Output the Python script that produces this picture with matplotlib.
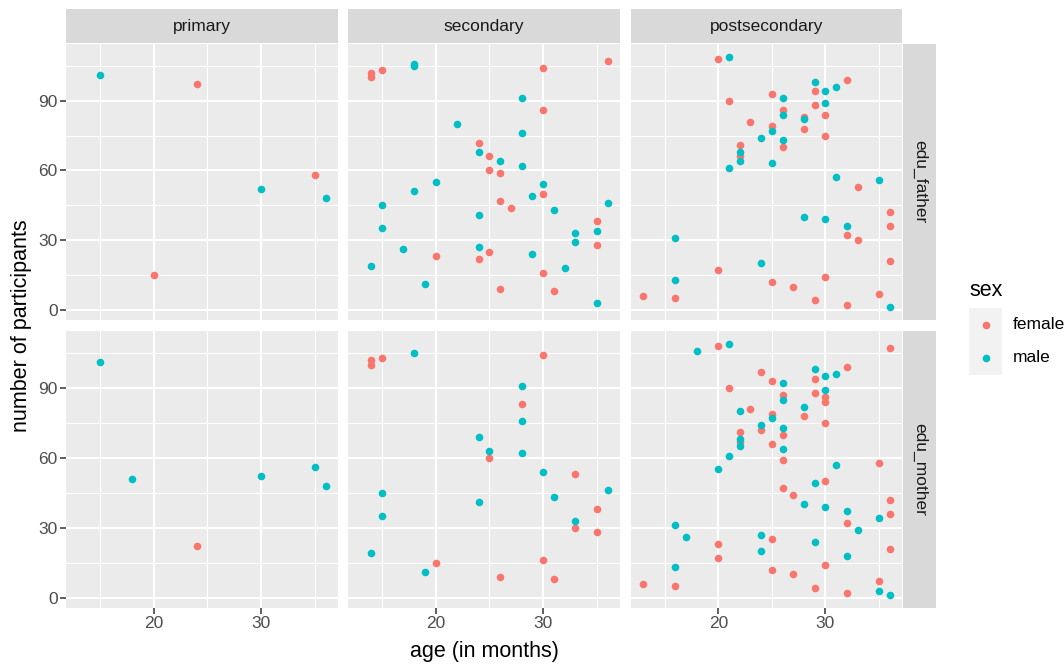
import matplotlib
matplotlib.use("Agg")
import matplotlib.pyplot as plt
from matplotlib.lines import Line2D

plt.rcParams['font.family'] = ['Liberation Sans', 'DejaVu Sans']

# ages (months) and number of participants
father_primary_f_age = [24, 35, 20]
father_primary_f_n = [97, 58, 15]
father_primary_m_age = [15, 30, 36]
father_primary_m_n = [101, 52, 48]

father_secondary_f_age = [14, 14, 15, 30, 36, 30, 24, 25, 25, 26, 30, 26, 27, 35, 35, 25, 20, 24, 30, 26, 31]
father_secondary_f_n = [102, 100, 103, 104, 107, 86, 72, 66, 60, 59, 50, 47, 44, 38, 28, 25, 23, 22, 16, 9, 8]
father_secondary_m_age = [18, 18, 28, 22, 28, 24, 26, 28, 20, 30, 29, 18, 36, 15, 31, 24, 15, 33, 35, 33,
                          17, 24, 29, 14, 32, 19, 35]
father_secondary_m_n = [106, 105, 91, 80, 76, 68, 64, 62, 55, 54, 49, 51, 46, 45, 43, 41, 35, 33, 34, 29,
                        26, 27, 24, 19, 18, 11, 3]

father_post_f_age = [20, 32, 29, 25, 21, 29, 26, 30, 28, 23, 28, 25, 30, 22, 26, 22, 33, 36, 36, 32,
                     33, 36, 20, 30, 25, 27, 13, 16, 35, 29, 32]
father_post_f_n = [108, 99, 94, 93, 90, 88, 86, 84, 83, 81, 78, 79, 75, 71, 70, 66, 53, 42, 36, 32,
                   30, 21, 17, 14, 12, 10, 6, 5, 7, 4, 2]
father_post_m_age = [21, 29, 31, 30, 26, 30, 26, 28, 25, 24, 26, 22, 22, 21, 25, 31, 35, 28, 30, 32,
                     16, 24, 16, 36]
father_post_m_n = [109, 98, 96, 94, 91, 89, 84, 82, 77, 74, 73, 68, 64, 61, 63, 57, 56, 40, 39, 36,
                   31, 20, 13, 1]

mother_primary_f_age = [24]
mother_primary_f_n = [22]
mother_primary_m_age = [15, 18, 30, 35, 36]
mother_primary_m_n = [101, 51, 52, 56, 48]

mother_secondary_f_age = [14, 14, 15, 30, 28, 25, 33, 35, 33, 35, 20, 30, 26, 31]
mother_secondary_f_n = [102, 100, 103, 104, 83, 60, 53, 38, 30, 28, 15, 16, 9, 8]
mother_secondary_m_age = [18, 28, 28, 24, 25, 28, 30, 15, 36, 31, 24, 15, 33, 14, 19]
mother_secondary_m_n = [105, 91, 76, 69, 63, 62, 54, 45, 46, 43, 41, 35, 33, 19, 11]

mother_post_f_age = [20, 36, 32, 24, 29, 25, 21, 29, 26, 30, 30, 23, 25, 28, 30, 24, 22, 26, 22, 25,
                     26, 35, 30, 26, 27, 36, 36, 32, 25, 20, 36, 20, 30, 25, 27, 13, 16, 35, 29, 32]
mother_post_f_n = [108, 107, 99, 97, 94, 93, 90, 88, 87, 86, 84, 81, 79, 78, 75, 72, 71, 70, 67, 66,
                   59, 58, 50, 47, 44, 42, 36, 32, 25, 23, 21, 17, 14, 12, 10, 6, 5, 7, 4, 2]
mother_post_m_age = [18, 21, 29, 30, 31, 26, 30, 26, 28, 22, 25, 24, 26, 22, 22, 26, 21, 20, 31, 29,
                     28, 30, 32, 35, 16, 33, 17, 24, 29, 24, 32, 16, 35, 36]
mother_post_m_n = [106, 109, 98, 95, 96, 92, 89, 85, 82, 80, 77, 74, 73, 68, 65, 64, 61, 55, 57, 49,
                   40, 39, 37, 34, 31, 29, 26, 27, 24, 20, 18, 13, 3, 1]

col_labels = ["primary", "secondary", "postsecondary"]
row_labels = ["edu_father", "edu_mother"]
sexes = ["female", "male"]

panels = [
    [(father_primary_f_age, father_primary_f_n, father_primary_m_age, father_primary_m_n),
     (father_secondary_f_age, father_secondary_f_n, father_secondary_m_age, father_secondary_m_n),
     (father_post_f_age, father_post_f_n, father_post_m_age, father_post_m_n)],
    [(mother_primary_f_age, mother_primary_f_n, mother_primary_m_age, mother_primary_m_n),
     (mother_secondary_f_age, mother_secondary_f_n, mother_secondary_m_age, mother_secondary_m_n),
     (mother_post_f_age, mother_post_f_n, mother_post_m_age, mother_post_m_n)],
]

colors = {"female": "#F8766D", "male": "#00BFC4"}

W, H = 1064, 664
fig = plt.figure(figsize=(W / 100, H / 100), dpi=100)

def box(x0, y0, x1, y1):
    # pixel box (top-left origin) -> figure fraction rect
    return [x0 / W, 1 - y1 / H, (x1 - x0) / W, (y1 - y0) / H]

col_x = [(66, 338), (348, 620), (631, 902)]
row_y = [(44, 320), (331, 608)]

# shared limits like ggplot (5% expansion)
all_x = [a for row in panels for p in row for a in p[0] + p[2]]
all_y = [a for row in panels for p in row for a in p[1] + p[3]]
dx = (max(all_x) - min(all_x)) * 0.05
dy = (max(all_y) - min(all_y)) * 0.05
xlim = (min(all_x) - dx, max(all_x) + dx)
ylim = (min(all_y) - dy, max(all_y) + dy)

tick_col = "#4D4D4D"
for r in range(2):
    for c in range(3):
        ax = fig.add_axes(box(col_x[c][0], row_y[r][0], col_x[c][1], row_y[r][1]))
        ax.set_facecolor("#EBEBEB")
        for s in ax.spines.values():
            s.set_visible(False)
        ax.set_xlim(xlim)
        ax.set_ylim(ylim)
        ax.set_xticks([20, 30])
        ax.set_xticks([15, 25, 35], minor=True)
        ax.set_yticks([0, 30, 60, 90])
        ax.set_yticks([15, 45, 75, 105], minor=True)
        ax.grid(True, which="major", color="white", lw=1.5)
        ax.grid(True, which="minor", color="white", lw=0.75)
        ax.set_axisbelow(True)
        ax.tick_params(which="minor", length=0)
        ax.tick_params(which="major", length=4, width=1.1, color="#333333",
                       labelsize=12.5, labelcolor=tick_col, pad=2)
        if c != 0:
            ax.tick_params(axis="y", which="major", length=0, labelleft=False)
        if r != 1:
            ax.tick_params(axis="x", which="major", length=0, labelbottom=False)
        fa, fn, ma, mn = panels[r][c]
        ax.scatter(fa, fn, s=30, color=colors["female"], linewidths=0, zorder=3)
        ax.scatter(ma, mn, s=30, color=colors["male"], linewidths=0, zorder=3)

# top strips
for c in range(3):
    sax = fig.add_axes(box(col_x[c][0], 9, col_x[c][1], 43))
    sax.set_facecolor("#D9D9D9")
    sax.set_xticks([]); sax.set_yticks([])
    for s in sax.spines.values():
        s.set_visible(False)
    sax.text(0.5, 0.5, col_labels[c], ha="center", va="center", fontsize=12.5,
             color="#1A1A1A", transform=sax.transAxes)

# right strips
for r in range(2):
    sax = fig.add_axes(box(903, row_y[r][0], 936, row_y[r][1]))
    sax.set_facecolor("#D9D9D9")
    sax.set_xticks([]); sax.set_yticks([])
    for s in sax.spines.values():
        s.set_visible(False)
    sax.text(0.5, 0.5, row_labels[r], ha="center", va="center", fontsize=12.5,
             color="#1A1A1A", rotation=270, transform=sax.transAxes)

# axis titles
fig.text(484 / W, 1 - 651 / H, "age (in months)", ha="center", va="center", fontsize=15.5)
fig.text(22 / W, 1 - 326 / H, "number of participants", ha="center", va="center",
         fontsize=15.5, rotation=90)

# legend
lax = fig.add_axes(box(969, 308, 1002, 375))
lax.set_facecolor("#F2F2F2")
lax.set_xticks([]); lax.set_yticks([])
for s in lax.spines.values():
    s.set_visible(False)
lax.set_xlim(0, 1); lax.set_ylim(0, 2)
for i, sx in enumerate(sexes):
    lax.add_line(Line2D([0.5], [1.5 - i], marker="o", ms=5.5, color=colors[sx], mec="none"))
    fig.text(1013 / W, 1 - (324 + 34 * i) / H, sx, ha="left", va="center", fontsize=12.5)
fig.text(969 / W, 1 - 290 / H, "sex", ha="left", va="center", fontsize=15.5)

fig.savefig("out.png", dpi=100)
